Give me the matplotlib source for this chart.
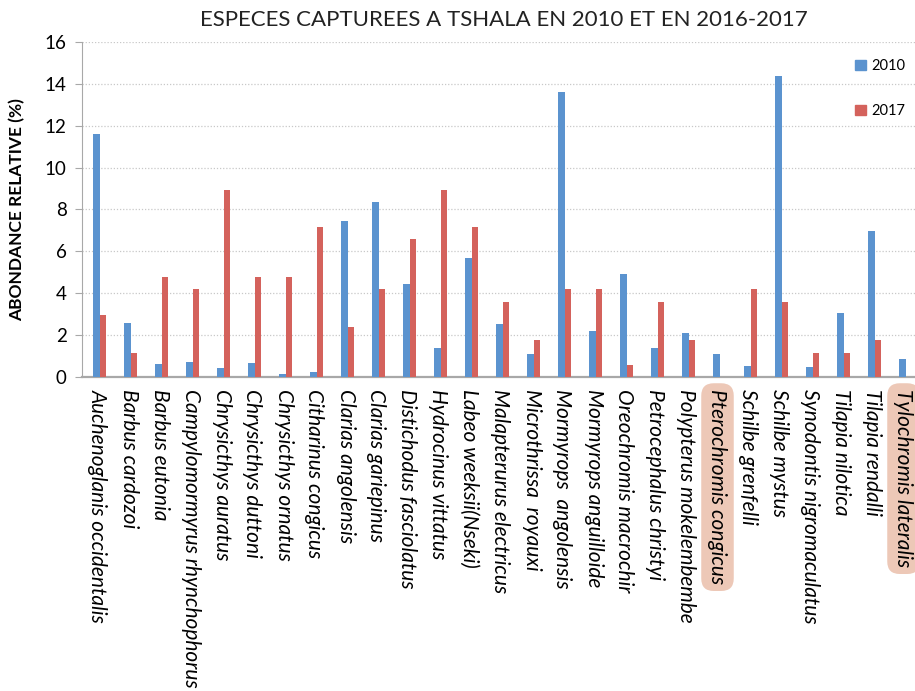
import matplotlib
matplotlib.use("Agg")
import matplotlib.pyplot as plt
from matplotlib.patches import Patch

# ---------------------------------------------------------------------------
# Data
# ---------------------------------------------------------------------------
species = [
    "Auchenoglanis occidentalis", "Barbus cardozoi", "Barbus eutonia",
    "Campylomormyrus rhynchophorus", "Chrysicthys auratus", "Chrysicthys duttoni",
    "Chrysicthys ornatus", "Citharinus congicus", "Clarias angolensis",
    "Clarias gariepinus", "Distichodus fasciolatus", "Hydrocinus vittatus",
    "Labeo weeksii(Nseki)", "Malapterurus electricus", "Microthrissa  royauxi",
    "Mormyrops  angolensis", "Mormyrops anguilloide", "Oreochromis macrochir",
    "Petrocephalus christyi", "Polypterus mokelembembe", "Pterochromis congicus",
    "Schilbe grenfelli", "Schilbe mystus", "Synodontis nigromaculatus",
    "Tilapia nilotica", "Tilapia rendalli", "Tylochromis lateralis",
]
ab_2010 = [11.6, 2.6, 0.6, 0.7, 0.45, 0.67, 0.13, 0.24, 7.47, 8.35, 4.44, 1.39,
           5.67, 2.51, 1.12, 13.62, 2.22, 4.9, 1.39, 2.11, 1.12,
           0.51, 14.4, 0.48, 3.08, 6.98, 0.88]
ab_2017 = [2.95, 1.17, 4.78, 4.19, 8.95, 4.78, 4.78, 7.16, 2.4, 4.19, 6.58, 8.95,
           7.16, 3.58, 1.79, 4.19, 4.19, 0.59, 3.58, 1.79, 0.0,
           4.19, 3.58, 1.17, 1.17, 1.79, 0.0]
highlighted = ["Pterochromis congicus", "Tylochromis lateralis"]

BLUE = "#5B93CF"
RED = "#D4625C"
W, H = 915, 691

plt.rcParams["font.family"] = ["Lato", "DejaVu Sans"]

fig = plt.figure(figsize=(W / 100, H / 100), dpi=100)
left, right, top, bottom = 82, 915, 42, 377
ax = fig.add_axes([left / W, 1 - bottom / H, (right - left) / W, (bottom - top) / H])

x = list(range(len(species)))
bw = 0.21
ax.bar([i - bw / 2 + 0.08 for i in x], ab_2010, bw, color=BLUE, zorder=3, label="2010")
ax.bar([i + bw / 2 + 0.08 for i in x], ab_2017, bw, color=RED, zorder=3, label="2017")

ax.set_ylim(0, 16)
ax.set_yticks(range(0, 17, 2))
ax.set_xlim(-0.5, -0.5 + (right - left) / 31.0)
ax.yaxis.grid(True, ls=(0, (1, 1.5)), color="#c8c8c8", lw=0.9, zorder=0)
ax.set_axisbelow(True)

for s in ["top", "right"]:
    ax.spines[s].set_visible(False)
ax.spines["left"].set_color("#a8a8a8")
ax.spines["bottom"].set_color("#a8a8a8")
ax.spines["bottom"].set_linewidth(1.6)
ax.tick_params(axis="y", length=5, color="#a8a8a8", labelsize=13.5, pad=6)
ax.tick_params(axis="x", length=0, pad=9)

ax.set_xticks(x)
ax.set_xticklabels(species, rotation=-90, ha="center", va="top",
                   style="italic", fontsize=15)
for lab in ax.get_xticklabels():
    if lab.get_text() in highlighted:
        lab.set_bbox(dict(boxstyle="round,pad=0.3,rounding_size=0.6",
                          facecolor="#EDC8B7", edgecolor="none"))

ax.set_ylabel("ABONDANCE RELATIVE (%)", fontsize=12.5, fontweight="bold", labelpad=14)

fig.text(504 / W, 1 - 20 / H, "ESPECES CAPTUREES A TSHALA EN 2010 ET EN 2016-2017",
         ha="center", va="center", fontsize=16, color="#222222")

handles = [Patch(color=BLUE, label="2010"), Patch(color=RED, label="2017")]
fig.legend(handles=handles, loc="upper left", bbox_to_anchor=(848 / W, 1 - 52 / H),
           frameon=False, fontsize=10.5, handlelength=0.7, handleheight=0.7,
           handletextpad=0.4, labelspacing=2.1, borderpad=0)

fig.savefig("out.png", dpi=100)
